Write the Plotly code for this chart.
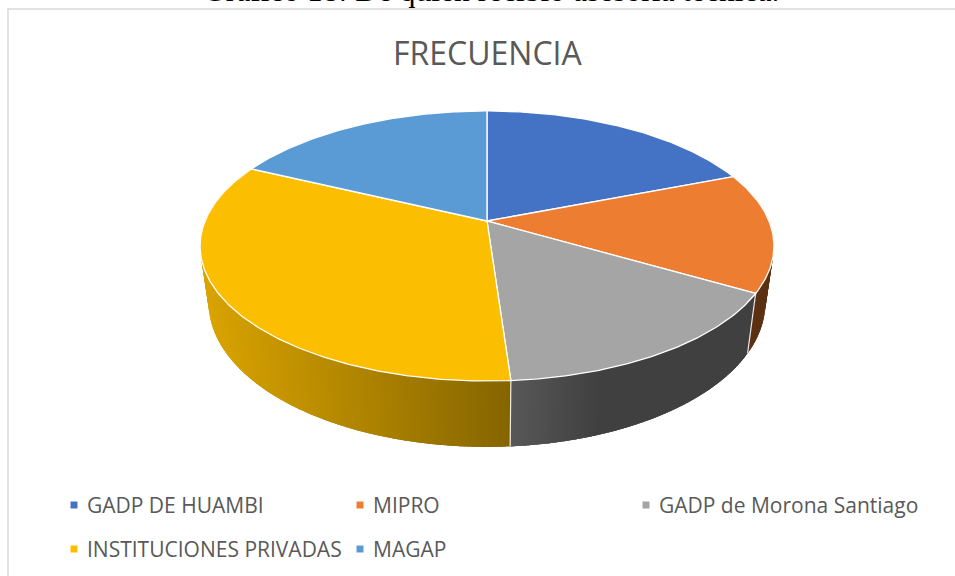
import math
import plotly.graph_objects as go

CATEGORIES = ["GADP DE HUAMBI", "MIPRO", "GADP de Morona Santiago", "INSTITUCIONES PRIVADAS", "MAGAP"]
VALUES = [19.1, 14.3, 15.5, 33.2, 17.9]
COLORS = [(68, 114, 196), (237, 125, 49), (165, 165, 165), (252, 190, 0), (91, 155, 213)]
TITLE = "FRECUENCIA"
CAPTION = "Gráfico 18: De quién recibió asesoría técnica."

W, H = 955, 576
CX, CY = 487, 221      # projected apex
A, B, K = 282, 130.4, 0.185  # perspective disc parameters
TEXT = "#595959"


def rim(theta):
    w = 1 + K * math.cos(theta)
    return CX + A * math.sin(theta) / w, CY - B * math.cos(theta) / w


def lower(x, y):
    return CX + 0.97 * (x - CX), CY + 55 + 1.068 * (y - CY)


def shade(x):
    if x >= 600:
        return 0.39
    if x >= 512:
        return 0.39 + (600 - x) / 88 * 0.14
    return 0.53 + (512 - x) / 307 * 0.33


def arc(t0, t1, step=0.01):
    n = max(2, int((t1 - t0) / step))
    return [t0 + (t1 - t0) * i / n for i in range(n + 1)]


total = sum(VALUES)
edges = [0.0]
for v in VALUES:
    edges.append(edges[-1] + v / total * 2 * math.pi)

fig = go.Figure()

# chart frame
fig.add_shape(type="rect", x0=8, y0=9, x1=W + 20, y1=H + 20,
              line=dict(color="#d9d9d9", width=1.5), layer="below")

# outer wall, in narrow overlapping strips for the gradient
for i, col in enumerate(COLORS):
    t0, t1 = edges[i], edges[i + 1]
    n = max(2, int((t1 - t0) / 0.012))
    ts = [t0 + (t1 - t0) * k / n for k in range(n + 1)]
    for a, b in zip(ts[:-1], ts[1:]):
        mid = rim((a + b) / 2)
        if math.cos((a + b) / 2) > 0.2:
            continue
        f = shade(mid[0])
        c = "rgb(%d,%d,%d)" % tuple(round(v * f) for v in col)
        end = min(b + 0.02, t1)
        ring = arc(a, end, 0.01)
        pts = [rim(t) for t in ring] + [lower(*rim(t)) for t in reversed(ring)]
        pts.append(pts[0])
        fig.add_trace(go.Scatter(x=[p[0] for p in pts], y=[p[1] for p in pts], mode="lines",
                                 fill="toself", fillcolor=c, line=dict(width=0),
                                 hoverinfo="skip", showlegend=False))

# white seams on the wall
for e in edges[:-1]:
    x, y = rim(e)
    if 1.9 < e < 3.2:
        lx, ly = lower(x, y)
        fig.add_trace(go.Scatter(x=[x, lx], y=[y, ly], mode="lines",
                                 line=dict(color="rgba(255,255,255,0.85)", width=1.2),
                                 hoverinfo="skip", showlegend=False))

# top face
for i, col in enumerate(COLORS):
    pts = [(CX, CY)] + [rim(t) for t in arc(edges[i], edges[i + 1])] + [(CX, CY)]
    fig.add_trace(go.Scatter(x=[p[0] for p in pts], y=[p[1] for p in pts], mode="lines",
                             fill="toself", fillcolor="rgb(%d,%d,%d)" % col,
                             line=dict(color="white", width=1.3),
                             name=CATEGORIES[i], text=[CATEGORIES[i]] * len(pts),
                             hovertemplate="%{text}: " + str(VALUES[i]) + "<extra></extra>",
                             showlegend=False))

# legend
LEG_X = [74, 360, 646, 74, 360]
LEG_Y = [505, 505, 505, 549, 549]
fig.add_trace(go.Scatter(x=LEG_X, y=LEG_Y, mode="markers", hoverinfo="skip", showlegend=False,
                         marker=dict(symbol="square", size=7, line=dict(width=0),
                                     color=["rgb(%d,%d,%d)" % c for c in COLORS])))
anns = [dict(x=x + 11, y=y, text=t, xref="x", yref="y", xanchor="left", yanchor="middle",
             showarrow=False, font=dict(family="Open Sans", size=21, color=TEXT))
        for x, y, t in zip(LEG_X, LEG_Y, CATEGORIES)]
anns.append(dict(x=488, y=52, text=TITLE, xref="x", yref="y", xanchor="center", yanchor="middle",
                 showarrow=False, font=dict(family="Open Sans", size=32, color=TEXT)))
anns.append(dict(x=491, y=10, text=CAPTION, xref="x", yref="y", xanchor="center", yanchor="bottom",
                 showarrow=False, font=dict(family="Liberation Serif", size=31.5, color="black")))

fig.update_layout(
    width=W, height=H, margin=dict(l=0, r=0, t=0, b=0), showlegend=False,
    paper_bgcolor="white", plot_bgcolor="white", annotations=anns,
    xaxis=dict(range=[0, W], visible=False, fixedrange=True),
    yaxis=dict(range=[H, 0], visible=False, fixedrange=True),
)
fig.write_html("out.html", config=dict(displayModeBar=False),
               post_script="document.body.style.margin='0';document.body.style.overflow='hidden';")
